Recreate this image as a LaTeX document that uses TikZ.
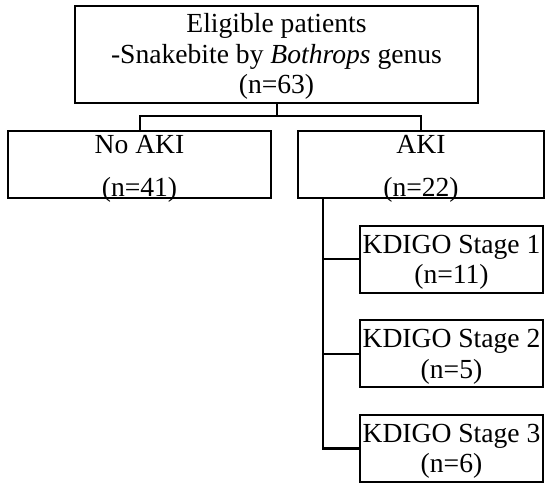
\documentclass[tikz,border=0pt]{standalone}
\usepackage{fontspec}
\setmainfont{Liberation Serif}
\usepackage{tikz}

\tikzset{
  flowbox/.style={draw, line width=1pt, inner xsep=0pt, inner ysep=0pt,
    align=center, font=\fontsize{13.8}{15.25}\selectfont},
  link/.style={line width=1pt}
}

\begin{document}
\begin{tikzpicture}[x=0.5pt, y=-0.5pt]
      \useasboundingbox (0, 0) rectangle (550, 490);
      % top box
      \node[flowbox, minimum width=201.5pt, text height=44pt, text depth=4.5pt]
        (eligible) at (276.5, 54.5) {Eligible patients\\-Snakebite by \textit{Bothrops} genus\\(n=63)};
      % second row
      \node[flowbox, minimum width=131.5pt, text height=33pt, text depth=0.5pt]
        (noaki) at (139.5, 164.5) {No AKI\\[6.5pt](n=41)};
      \node[flowbox, minimum width=123pt, text height=33pt, text depth=0.5pt]
        (aki) at (421, 164.5) {AKI\\[6.5pt](n=22)};
      % stages
      \node[flowbox, minimum width=91.5pt, text height=29pt, text depth=4.5pt]
        (stageone) at (451.5, 259.5) {KDIGO Stage 1\\(n=11)};
      \node[flowbox, minimum width=91.5pt, text height=29pt, text depth=4.5pt]
        (stagetwo) at (451.5, 354) {KDIGO Stage 2\\(n=5)};
      \node[flowbox, minimum width=91.5pt, text height=29pt, text depth=4.5pt]
        (stagethree) at (451.5, 448.5) {KDIGO Stage 3\\(n=6)};
      % connectors
      \coordinate (fork) at (276.5, 116);
      \coordinate (trunk) at (322.5, 198);
      \draw[link] (eligible.south) -- (fork);
      \draw[link] (noaki.north) |- (fork) -| (aki.north);
      \draw[link] (trunk) |- (stagethree.west);
      \draw[link] (stageone.west) -- (stageone.west -| trunk);
      \draw[link] (stagetwo.west) -- (stagetwo.west -| trunk);
    \end{tikzpicture}
\end{document}
